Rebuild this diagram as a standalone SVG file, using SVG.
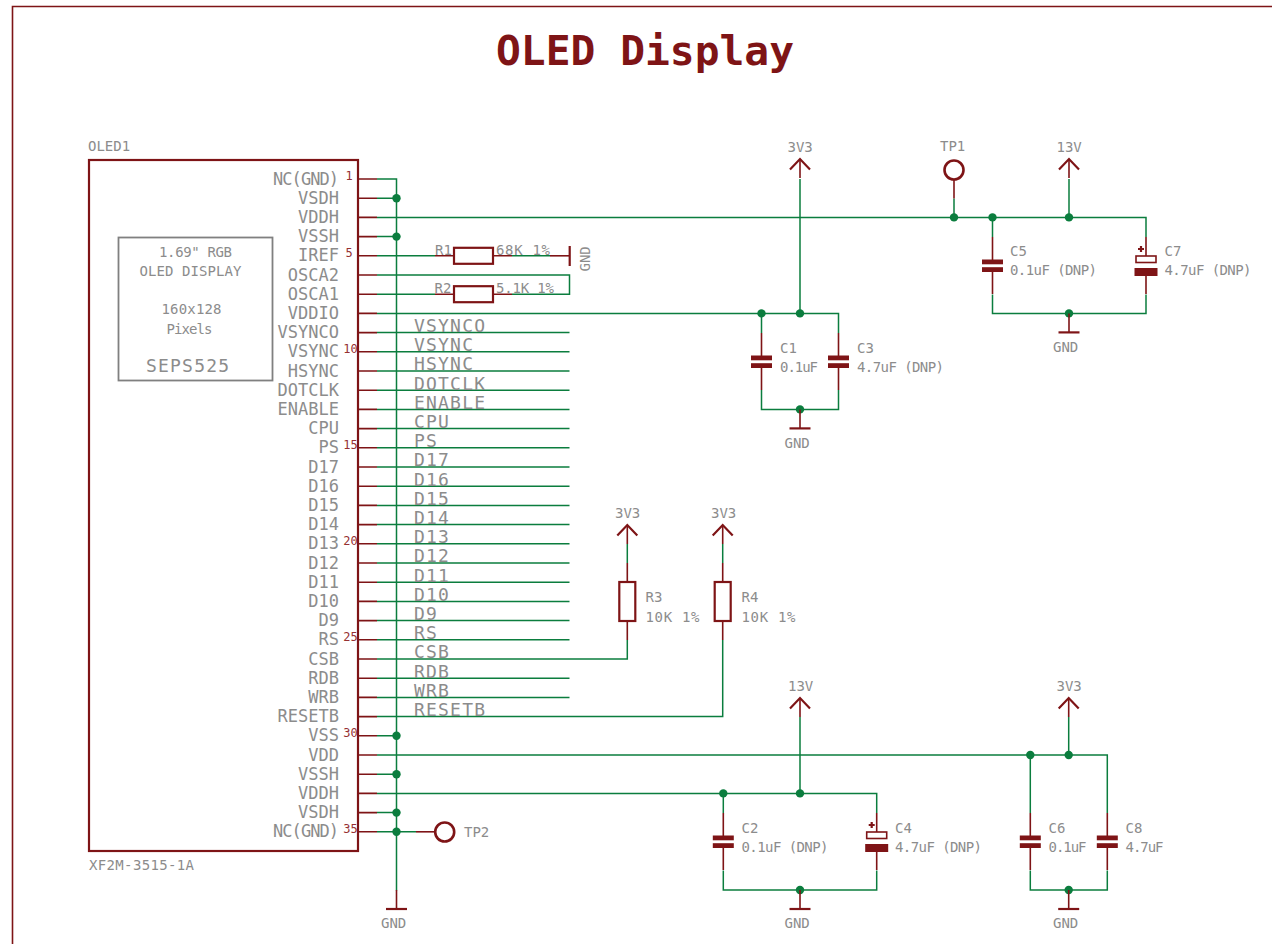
<svg xmlns="http://www.w3.org/2000/svg" width="1272" height="944" viewBox="0 0 1272 944">
<defs><style>
text{font-family:"DejaVu Sans Mono","Liberation Mono",monospace;fill:#8c8c8c}
.s{font-size:14px}
.p{font-size:17px;text-anchor:end}
.n{font-size:18px;letter-spacing:1.2px}
.num{font-size:12px;fill:#963032;text-anchor:middle}
.title{font-size:41px;font-weight:bold;fill:#7e1416}
.w{fill:none;stroke:#0b7d3e;stroke-width:1.5}
.r{fill:none;stroke:#7e1416;stroke-width:1.6}
.b{fill:none;stroke:#7e1416;stroke-width:2.2}
.f{fill:#7e1416;stroke:none}
.j{fill:#0b7d3e;stroke:none}
</style>
<g id="gnd-sym"><path class="r" d="M0 0V19"/><path class="b" d="M-10.5 19H10.5"/></g>
<g id="sup-sym"><path class="r" d="M0 0V19"/><path class="b" d="M-10 10.5L0 0L10 10.5"/></g>
<g id="cap-sym"><path class="r" d="M0 0V24M0 32V57"/><rect class="f" x="-10.5" y="22.5" width="21" height="4.8"/><rect class="f" x="-10.5" y="30.2" width="21" height="4.8"/></g>
<g id="pol-sym"><path class="r" d="M0 0V19M0 39V57"/><rect class="b" style="stroke-width:1.6" x="-10" y="19" width="20" height="6.5"/><rect class="f" x="-11.5" y="31" width="23" height="8"/><path class="b" d="M-8 12H-2M-5 9V15"/></g>
<g id="res-v"><path class="r" d="M0 0V19M0 58V77"/><rect class="b" x="-8" y="19" width="16" height="39"/></g>
<g id="res-h"><path class="r" d="M0 0H19M58 0H77"/><rect class="b" x="19" y="-8" width="39" height="16"/></g>
</defs>
<rect width="1272" height="944" fill="#fff"/>
<g id="frame"><path class="r" d="M1272 6.5H12.5V944"/></g>
<text id="title" class="title" x="496" y="65" textLength="298" lengthAdjust="spacingAndGlyphs">OLED Display</text>

<g id="connectors">
<path class="w" d="M377 179H396.5V890.5"/>
<path class="w" d="M377 198.2H396.5M377 236.6H396.5M377 735.8H396.5M377 774.2H396.5M377 812.6H396.5M377 831.8H416"/>
<path class="w" d="M377 217.4H1146V237M954 198.5V217.4M992.5 217.4V237M1069 179V217.4"/>
<path class="w" d="M377 255.8H435M512 255.8H550"/>
<path class="w" d="M377 275H569.5V294.2H512M377 294.2H435"/>
<path class="w" d="M377 313.4H838.5V333M761.5 313.4V333M800 179V313.4M761.5 390V409.4H838.5V390"/>
<path class="w" d="M992.5 294.5V313.4H1146V294.5"/>
<path class="w" d="M377 332.6H569.5M377 351.8H569.5M377 371H569.5M377 390.2H569.5M377 409.4H569.5M377 428.6H569.5M377 447.8H569.5M377 467H569.5M377 486.2H569.5M377 505.4H569.5M377 524.6H569.5M377 543.8H569.5M377 563H569.5M377 582.2H569.5M377 601.4H569.5M377 620.6H569.5M377 639.8H569.5M377 678.2H569.5M377 697.4H569.5"/>
<path class="w" d="M377 659H627.3V640M627.3 544V563"/>
<path class="w" d="M377 716.6H722.7V640M722.7 544V563"/>
<path class="w" d="M377 755H1107.3V813M1030.3 755V813M1068.7 717V755"/>
<path class="w" d="M377 793.4H876.7V813M723.3 793.4V813M800 717V793.4"/>
<path class="w" d="M723.3 870.5V890H876.7V870.5M1030.3 870.5V890H1107.3V870.5"/>
<g id="junctions">
<circle class="j" cx="396.5" cy="198.2" r="4.2"/><circle class="j" cx="396.5" cy="236.6" r="4.2"/><circle class="j" cx="396.5" cy="735.8" r="4.2"/><circle class="j" cx="396.5" cy="774.2" r="4.2"/><circle class="j" cx="396.5" cy="812.6" r="4.2"/><circle class="j" cx="396.5" cy="831.8" r="4.2"/>
<circle class="j" cx="954" cy="217.4" r="4.2"/><circle class="j" cx="992.5" cy="217.4" r="4.2"/><circle class="j" cx="1069" cy="217.4" r="4.2"/><circle class="j" cx="1069" cy="313.4" r="4.2"/>
<circle class="j" cx="761.5" cy="313.4" r="4.2"/><circle class="j" cx="800" cy="313.4" r="4.2"/><circle class="j" cx="800" cy="409.4" r="4.2"/>
<circle class="j" cx="723.3" cy="793.4" r="4.2"/><circle class="j" cx="800" cy="793.4" r="4.2"/><circle class="j" cx="800" cy="890" r="4.2"/>
<circle class="j" cx="1030.3" cy="755" r="4.2"/><circle class="j" cx="1068.7" cy="755" r="4.2"/><circle class="j" cx="1068.7" cy="890" r="4.2"/>
</g>
</g>

<g id="OLED1">
<rect class="b" x="89" y="160" width="269" height="691"/>
<path class="r" d="M358 179H377M358 198.2H377M358 217.4H377M358 236.6H377M358 255.8H377M358 275H377M358 294.2H377M358 313.4H377M358 332.6H377M358 351.8H377M358 371H377M358 390.2H377M358 409.4H377M358 428.6H377M358 447.8H377M358 467H377M358 486.2H377M358 505.4H377M358 524.6H377M358 543.8H377M358 563H377M358 582.2H377M358 601.4H377M358 620.6H377M358 639.8H377M358 659H377M358 678.2H377M358 697.4H377M358 716.6H377M358 735.8H377M358 755H377M358 774.2H377M358 793.4H377M358 812.6H377M358 831.8H377"/>
<text class="s" x="88" y="151">OLED1</text>
<text class="s" x="89" y="870" textLength="105">XF2M-3515-1A</text>
<g>
<text class="p" x="339" y="184.5" textLength="66">NC(GND)</text><text class="p" x="339" y="203.7">VSDH</text><text class="p" x="339" y="222.9">VDDH</text><text class="p" x="339" y="242.1">VSSH</text><text class="p" x="339" y="261.3">IREF</text><text class="p" x="339" y="280.5">OSCA2</text><text class="p" x="339" y="299.7">OSCA1</text><text class="p" x="339" y="318.9">VDDIO</text><text class="p" x="339" y="338.1">VSYNCO</text><text class="p" x="339" y="357.3">VSYNC</text><text class="p" x="339" y="376.5">HSYNC</text><text class="p" x="339" y="395.7">DOTCLK</text><text class="p" x="339" y="414.9">ENABLE</text><text class="p" x="339" y="434.1">CPU</text><text class="p" x="339" y="453.3">PS</text><text class="p" x="339" y="472.5">D17</text><text class="p" x="339" y="491.7">D16</text><text class="p" x="339" y="510.9">D15</text><text class="p" x="339" y="530.1">D14</text><text class="p" x="339" y="549.3">D13</text><text class="p" x="339" y="568.5">D12</text><text class="p" x="339" y="587.7">D11</text><text class="p" x="339" y="606.9">D10</text><text class="p" x="339" y="626.1">D9</text><text class="p" x="339" y="645.3">RS</text><text class="p" x="339" y="664.5">CSB</text><text class="p" x="339" y="683.7">RDB</text><text class="p" x="339" y="702.9">WRB</text><text class="p" x="339" y="722.1">RESETB</text><text class="p" x="339" y="741.3">VSS</text><text class="p" x="339" y="760.5">VDD</text><text class="p" x="339" y="779.7">VSSH</text><text class="p" x="339" y="798.9">VDDH</text><text class="p" x="339" y="818.1">VSDH</text><text class="p" x="339" y="837.3" textLength="66">NC(GND)</text>
</g>
<g>
<text class="num" x="349" y="180">1</text><text class="num" x="349" y="256.5">5</text><text class="num" x="350.5" y="352.5">10</text><text class="num" x="350.5" y="448.5">15</text><text class="num" x="350.5" y="544.5">20</text><text class="num" x="350.5" y="640.5">25</text><text class="num" x="350.5" y="736.5">30</text><text class="num" x="350.5" y="832.5">35</text>
</g>
<g id="display-note">
<rect x="118.5" y="237.5" width="154" height="143" fill="none" stroke="#808080" stroke-width="1.8"/>
<text class="s" x="159" y="257" textLength="73">1.69" RGB</text>
<text class="s" x="139.5" y="276" textLength="102">OLED DISPLAY</text>
<text class="s" x="161.5" y="314" textLength="60">160x128</text>
<text class="s" x="166.5" y="333.5" textLength="46">Pixels</text>
<text class="n" x="146" y="371.5">SEPS525</text>
</g>
</g>

<g id="net-labels">
<text class="n" x="414" y="332">VSYNCO</text><text class="n" x="414" y="351.2">VSYNC</text><text class="n" x="414" y="370.4">HSYNC</text><text class="n" x="414" y="389.6">DOTCLK</text><text class="n" x="414" y="408.8">ENABLE</text><text class="n" x="414" y="428">CPU</text><text class="n" x="414" y="447.2">PS</text><text class="n" x="414" y="466.4">D17</text><text class="n" x="414" y="485.6">D16</text><text class="n" x="414" y="504.8">D15</text><text class="n" x="414" y="524">D14</text><text class="n" x="414" y="543.2">D13</text><text class="n" x="414" y="562.4">D12</text><text class="n" x="414" y="581.6">D11</text><text class="n" x="414" y="600.8">D10</text><text class="n" x="414" y="620">D9</text><text class="n" x="414" y="639.2">RS</text><text class="n" x="414" y="658.4">CSB</text><text class="n" x="414" y="677.6">RDB</text><text class="n" x="414" y="696.8">WRB</text><text class="n" x="414" y="716">RESETB</text>
</g>

<g id="R1"><use href="#res-h" x="435" y="255.8"/><text class="s" x="435" y="255">R1</text><text class="s" x="496" y="255" textLength="54">68K 1%</text></g>
<g id="GND-R1"><path class="r" d="M550 255.8H569"/><path class="b" d="M569.7 246V266"/><text class="s" transform="translate(590 271.5) rotate(-90)">GND</text></g>
<g id="R2"><use href="#res-h" x="435" y="294.2"/><text class="s" x="434.5" y="293">R2</text><text class="s" x="496" y="293" textLength="58">5.1K 1%</text></g>
<g id="R3"><use href="#res-v" x="627.3" y="563"/><text class="s" x="645.5" y="602">R3</text><text class="s" x="645.5" y="621.5" textLength="54">10K 1%</text></g>
<g id="R4"><use href="#res-v" x="722.7" y="563"/><text class="s" x="741.5" y="602">R4</text><text class="s" x="741.5" y="621.5" textLength="54">10K 1%</text></g>

<g id="C1"><use href="#cap-sym" x="761.5" y="333"/><text class="s" x="780" y="352.5">C1</text><text class="s" x="780" y="371.5" textLength="38">0.1uF</text></g>
<g id="C3"><use href="#cap-sym" x="838.5" y="333"/><text class="s" x="857" y="352.5">C3</text><text class="s" x="857" y="371.5" textLength="87">4.7uF (DNP)</text></g>
<g id="C5"><use href="#cap-sym" x="992.5" y="237"/><text class="s" x="1010" y="256">C5</text><text class="s" x="1010" y="275" textLength="87">0.1uF (DNP)</text></g>
<g id="C7"><use href="#pol-sym" x="1146" y="237"/><text class="s" x="1164.5" y="256">C7</text><text class="s" x="1164.5" y="275" textLength="87">4.7uF (DNP)</text></g>
<g id="C2"><use href="#cap-sym" x="723.3" y="813"/><text class="s" x="741.5" y="832.5">C2</text><text class="s" x="741.5" y="851.5" textLength="87">0.1uF (DNP)</text></g>
<g id="C4"><use href="#pol-sym" x="876.7" y="813"/><text class="s" x="895" y="832.5">C4</text><text class="s" x="895" y="851.5" textLength="87">4.7uF (DNP)</text></g>
<g id="C6"><use href="#cap-sym" x="1030.3" y="813"/><text class="s" x="1048.5" y="832.5">C6</text><text class="s" x="1048.5" y="851.5" textLength="38">0.1uF</text></g>
<g id="C8"><use href="#cap-sym" x="1107.3" y="813"/><text class="s" x="1125.5" y="832.5">C8</text><text class="s" x="1125.5" y="851.5" textLength="38">4.7uF</text></g>

<g id="TP1"><circle class="b" cx="954" cy="170" r="9.5" style="stroke-width:2.6"/><path class="r" d="M954 179.5V198.5"/><text class="s" x="940" y="150.5">TP1</text></g>
<g id="TP2"><circle class="b" cx="444.7" cy="832" r="9.5" style="stroke-width:2.6"/><path class="r" d="M416 831.8H435"/><text class="s" x="464" y="837">TP2</text></g>

<g id="SUP-3V3-1"><use href="#sup-sym" x="800" y="159"/><text class="s" x="787.5" y="152">3V3</text></g>
<g id="SUP-13V-1"><use href="#sup-sym" x="1069" y="159"/><text class="s" x="1056.5" y="152">13V</text></g>
<g id="SUP-3V3-2"><use href="#sup-sym" x="627.3" y="525"/><text class="s" x="615" y="517.5">3V3</text></g>
<g id="SUP-3V3-3"><use href="#sup-sym" x="722.7" y="525"/><text class="s" x="711" y="517.5">3V3</text></g>
<g id="SUP-13V-2"><use href="#sup-sym" x="800" y="698"/><text class="s" x="788" y="691">13V</text></g>
<g id="SUP-3V3-4"><use href="#sup-sym" x="1068.7" y="698"/><text class="s" x="1056.5" y="691">3V3</text></g>

<g id="GND-1"><use href="#gnd-sym" x="396.5" y="890"/><text class="s" x="381" y="928">GND</text></g>
<g id="GND-2"><use href="#gnd-sym" x="800" y="409.4"/><text class="s" x="784.5" y="448">GND</text></g>
<g id="GND-3"><use href="#gnd-sym" x="1069" y="313.4"/><text class="s" x="1053" y="352">GND</text></g>
<g id="GND-4"><use href="#gnd-sym" x="800" y="890"/><text class="s" x="784.5" y="928">GND</text></g>
<g id="GND-5"><use href="#gnd-sym" x="1068.7" y="890"/><text class="s" x="1053" y="928">GND</text></g>
</svg>
